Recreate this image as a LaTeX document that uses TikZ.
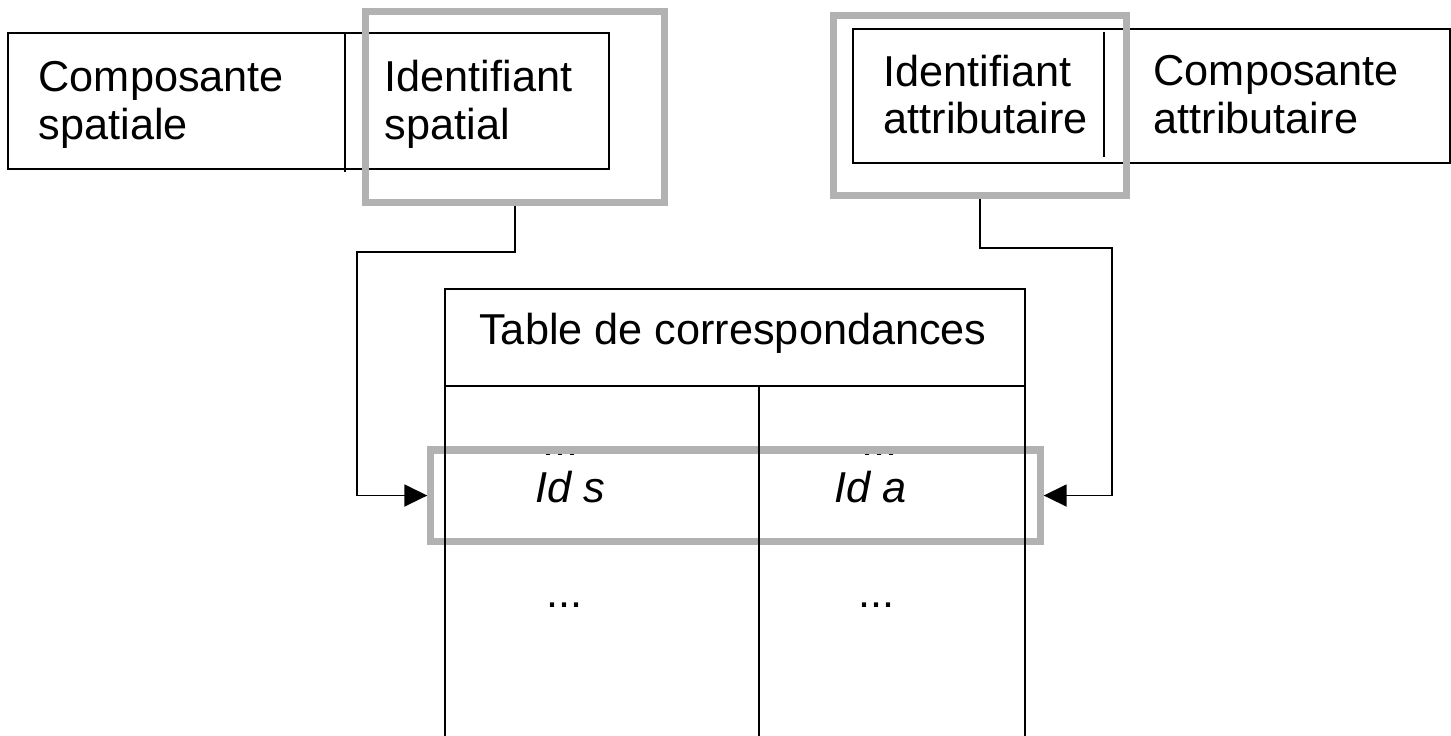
\documentclass[tikz,border=0pt]{standalone}
\usepackage{fontspec}
\setmainfont{Liberation Sans}
\usetikzlibrary{shapes,arrows.meta,calc}

\begin{document}
\begin{tikzpicture}[x=0.01cm, y=-0.01cm,
  every node/.style={font=\fontsize{12.3}{13.6}\selectfont, inner sep=0pt},
  record/.style={draw, rectangle, line width=0.5pt},
  cell/.style={draw, rectangle, line width=0.5pt},
  lbl/.style={anchor=west, align=left},
  idtxt/.style={anchor=base west, font=\fontsize{12.3}{13.6}\selectfont\itshape},
  hilite/.style={draw=gray!60, rectangle, line width=2pt},
  link/.style={line width=0.5pt, -{Triangle[length=0.23cm, width=0.22cm]}}]

\useasboundingbox (0,0) rectangle (1451,735);

% Composante spatiale / Identifiant spatial
\node[record, minimum width=6.01cm, minimum height=1.36cm] (spatial) at (308.5,101) {};
\draw[line width=0.5pt] (345,33) -- (345,172);
\node[lbl] (compS) at (38,104.7) {Composante\\spatiale};
\node[lbl] (idS) at (384,104.7) {Identifiant\\spatial};

% Identifiant attributaire / Composante attributaire
\node[record, minimum width=5.97cm, minimum height=1.34cm] (attrib) at (1151.5,96) {};
\draw[line width=0.5pt] (1104,32) -- (1104,157);
\node[lbl] (idA) at (883,94.5) {Identifiant\\attributaire};
\node[lbl] (compA) at (1153,94.5) {Composante\\attributaire};

% cadres gris
\node[hilite, minimum width=2.98cm, minimum height=1.905cm] (hiS) at (515,106.75) {};
\node[hilite, minimum width=2.92cm, minimum height=1.80cm] (hiA) at (980,105.5) {};

% Table de correspondances
\node[anchor=base west] (dotS0) at (542,455) {...};
\node[anchor=base west] (dotA0) at (861,455) {...};
\node[hilite, minimum width=6.09cm, minimum height=0.91cm] (hiRow) at (735.5,495.5) {};
\node[cell, minimum width=5.8cm, minimum height=0.97cm] (corr) at (735,337.5) {};
\node[anchor=base] (corrLbl) at (733,344) {Table de correspondances};
\node[cell, minimum width=3.14cm, minimum height=3.74cm] (colS) at (602,573) {};
\node[cell, minimum width=2.66cm, minimum height=3.74cm] (colA) at (892,573) {};
\node[idtxt] (idsVal) at (535,502) {Id s};
\node[idtxt] (idaVal) at (834,502) {Id a};
\node[anchor=base west] (dotS) at (546,607) {...};
\node[anchor=base west] (dotA) at (858,607) {...};

% liens
\draw[link] (hiS.south) |- (357,252) |- (hiRow.west);
\draw[link] (hiA.south) |- (1112,248) |- (hiRow.east);
\end{tikzpicture}
\end{document}
